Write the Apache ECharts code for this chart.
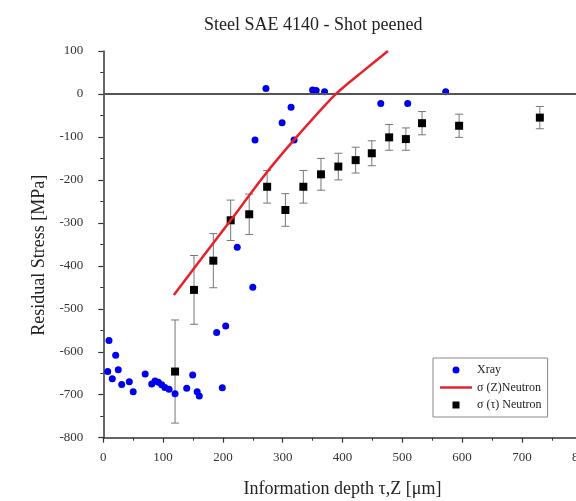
<!DOCTYPE html>
<html>
<head>
<meta charset="utf-8">
<script src="https://cdn.jsdelivr.net/npm/echarts@6/dist/echarts.min.js"></script>
<style>
html,body{margin:0;padding:0;background:#fff;}
#chart{width:576px;height:501px;}
</style>
</head>
<body>
<div id="chart"></div>
<script>
// ---- Data ----
const xrayX = [9.5, 20.7, 7.4, 25, 15, 30.8, 43.5, 50, 70, 81, 86.5, 92, 97.7, 103, 110, 120, 139.5, 149.5, 157, 160.5, 189.6, 204.7, 199, 224, 250, 253.7, 272, 299, 314, 319, 350, 356, 370, 464, 509, 572.6];
const xrayY = [-574, -608, -646, -642, -663, -676, -670, -693, -652, -675, -668, -671, -677, -683, -687, -698, -685, -654, -693, -703, -555, -540, -684, -357, -450, -107, 13, -67, -31, -107, 9, 8, 5, -22, -22, 5];

const neutronZX = [118, 162, 213, 268, 319, 389, 437, 476];
const neutronZY = [-468, -387, -294, -192, -107, 0, 56, 100];

const neutronTX = [120, 151.7, 184, 213, 244, 274, 304.5, 334.5, 364, 393, 422, 449, 478, 506, 533, 595, 730];
const neutronTY = [-646, -456, -388, -294, -280, -216, -270, -216, -187, -169, -154, -138, -101, -105, -68, -74, -55];
const neutronTErr = [120, 80, 63, 47, 47, 38, 38, 38, 37, 31, 30, 29, 30, 26, 27, 27, 26];

const xTicks = {min: 0, max: 800, interval: 100};
const yTicks = {min: -800, max: 100, interval: 100};

const titleText = 'Steel SAE 4140 - Shot peened';
const xName = 'Information depth \u03C4,Z [\u03BCm]';
const yName = 'Residual Stress [MPa]';
const names = ['Xray', '\u03C3 (Z)Neutron', '\u03C3 (\u03C4) Neutron'];

// ---- Chart ----
const serif = 'Liberation Serif';
const chart = echarts.init(document.getElementById('chart'), null, {renderer: 'canvas'});

const zip = (a, b) => a.map((v, i) => [v, b[i]]);

const axisCommon = {
  axisLine: {show: true, onZero: false, lineStyle: {color: '#333', width: 1.5}},
  axisTick: {show: true, inside: false, length: 5, lineStyle: {color: '#333', width: 1.2}},
  minorTick: {show: true, splitNumber: 2, length: 3, lineStyle: {color: '#333', width: 1}},
  splitLine: {show: false},
  minorSplitLine: {show: false},
  axisLabel: {fontFamily: serif, fontSize: 13, color: '#333'}
};

const option = {
  animation: false,
  backgroundColor: '#fff',
  title: {
    text: titleText,
    left: 199, top: 11,
    textStyle: {fontFamily: serif, fontSize: 18, fontWeight: 'normal', color: '#222'}
  },
  grid: {left: 103.3, right: -5.7, top: 51, bottom: 63.3, containLabel: false, outerBoundsMode: 'none'},
  legend: {
    orient: 'vertical',
    left: 433, top: 358,
    data: [
      {name: names[0], icon: 'circle'},
      {name: names[1], icon: 'path://M0,0h32v2.5h-32z'},
      {name: names[2], icon: 'path://M0,0h7v7h-7z'}
    ],
    itemWidth: 32, itemHeight: 7, itemGap: 5.5, itemTextGap: 3,
    symbolKeepAspect: true,
    padding: [6, 6, 6, 7],
    borderColor: '#888', borderWidth: 1,
    textStyle: {fontFamily: serif, fontSize: 12, color: '#222'},
    selectedMode: false
  },
  xAxis: Object.assign({}, axisCommon, {
    type: 'value',
    min: xTicks.min, max: xTicks.max, interval: xTicks.interval,
    name: xName, nameLocation: 'middle', nameGap: 43,
    nameTextStyle: {fontFamily: serif, fontSize: 18, color: '#222'},
    axisLabel: Object.assign({}, axisCommon.axisLabel, {margin: 13, showMaxLabel: true})
  }),
  yAxis: Object.assign({}, axisCommon, {
    type: 'value',
    min: yTicks.min, max: yTicks.max, interval: yTicks.interval,
    name: yName, nameLocation: 'middle', nameGap: 55,
    nameTextStyle: {fontFamily: serif, fontSize: 18, color: '#222', padding: [0, 22, 0, 0]},
    axisLabel: Object.assign({}, axisCommon.axisLabel, {margin: 20})
  }),
  series: [
    {
      name: 'err', type: 'custom', z: 2,
      data: neutronTX.map((x, i) => [x, neutronTY[i] - neutronTErr[i], neutronTY[i] + neutronTErr[i]]),
      renderItem: function (params, api) {
        const x = api.value(0);
        const lo = api.coord([x, api.value(1)]);
        const hi = api.coord([x, api.value(2)]);
        const w = 4;
        const st = {stroke: '#777', lineWidth: 1};
        return {type: 'group', children: [
          {type: 'line', shape: {x1: lo[0], y1: lo[1], x2: hi[0], y2: hi[1]}, style: st},
          {type: 'line', shape: {x1: lo[0] - w, y1: lo[1], x2: lo[0] + w, y2: lo[1]}, style: st},
          {type: 'line', shape: {x1: hi[0] - w, y1: hi[1], x2: hi[0] + w, y2: hi[1]}, style: st}
        ]};
      },
      silent: true
    },
    {
      name: names[0], type: 'scatter', z: 4,
      data: zip(xrayX, xrayY),
      symbol: 'circle', symbolSize: 7,
      itemStyle: {color: '#0000ee', opacity: 1},
      markLine: {
        silent: true, symbol: ['none', 'none'],
        label: {show: false},
        lineStyle: {color: '#555', width: 2, type: 'solid'},
        data: [{yAxis: 0}]
      }
    },
    {
      name: names[1], type: 'line', z: 5,
      data: zip(neutronZX, neutronZY),
      smooth: 0.25, symbol: 'none', showSymbol: false,
      lineStyle: {color: '#e8202a', width: 2.5},
      itemStyle: {color: '#e8202a'}
    },
    {
      name: names[2], type: 'scatter', z: 3,
      data: zip(neutronTX, neutronTY),
      symbol: 'rect', symbolSize: 8,
      itemStyle: {color: '#000', opacity: 1}
    }
  ]
};
chart.setOption(option);
</script>
</body>
</html>
